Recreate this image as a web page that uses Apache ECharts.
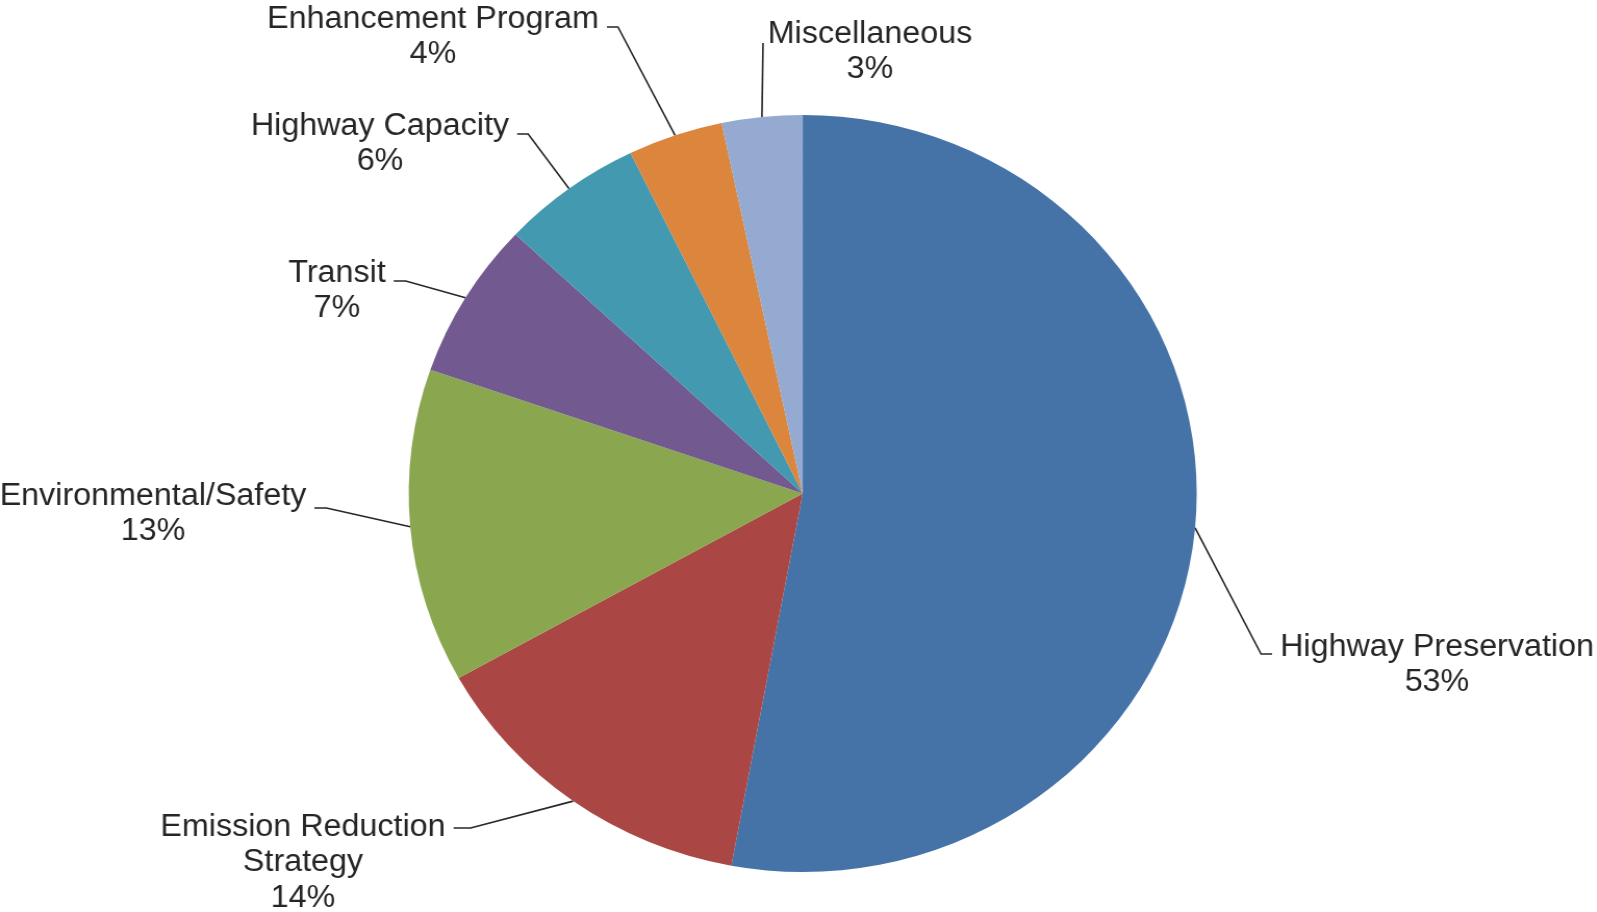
<!DOCTYPE html>
<html>
<head>
<meta charset="utf-8">
<script src="https://cdn.jsdelivr.net/npm/echarts@6/dist/echarts.min.js"></script>
<style>
html, body { margin: 0; padding: 0; background: #ffffff; overflow: hidden; }
#chart { width: 1534px; height: 912px; transform: scaleX(1.041); transform-origin: 0 0; }
</style>
</head>
<body>
<div id="chart"></div>
<script>
// ---- data ----
const categories = [
  'Highway Preservation',
  'Emission Reduction\nStrategy',
  'Environmental/Safety',
  'Transit',
  'Highway Capacity',
  'Enhancement Program',
  'Miscellaneous'
];
const shares = [52.9, 14.0, 13.4, 6.7, 5.8, 3.9, 3.3];

// ---- styles ----
const colors = ['#4573A8', '#AA4744', '#8AA64F', '#72598F', '#4299B0', '#DB853D', '#94AAD0'];
const SX = 1.041;          // horizontal stretch of the picture
const LH = 35.5;           // label line height
const GAP = 8;             // gap between leader line and text (screen px)

// label placement (screen px): text centre x, first-line centre y, leader y
const labelSpots = [
  { cx: 1437, cy: 647, lineY: 654, side: 'right', seg: 11 },
  { cx: 303,  cy: 827, lineY: 828, side: 'left',  seg: 17 },
  { cx: 153,  cy: 496, lineY: 508, side: 'left',  seg: 12 },
  { cx: 337,  cy: 273, lineY: 281, side: 'left',  seg: 12 },
  { cx: 380,  cy: 126, lineY: 134, side: 'left',  seg: 11 },
  { cx: 433,  cy: 19,  lineY: 27,  side: 'left',  seg: 11 },
  { cx: 870,  cy: 34,  lineY: 43,  side: 'up',    lx: 763 }
];

const chart = echarts.init(document.getElementById('chart'), null, { renderer: 'canvas' });

chart.setOption({
  animation: false,
  backgroundColor: '#ffffff',
  series: [{
    type: 'pie',
    center: [802.7 / SX, 493.5],
    radius: 378.5,
    startAngle: 90,
    clockwise: true,
    avoidLabelOverlap: false,
    silent: true,
    data: categories.map((name, i) => ({
      name: name,
      value: shares[i],
      itemStyle: { color: colors[i] }
    })),
    itemStyle: { borderWidth: 0 },
    label: {
      show: true,
      position: 'outside',
      formatter: p => p.name + '\n' + Math.round(p.percent) + '%',
      fontFamily: '"Liberation Sans", Arial, sans-serif',
      fontSize: 31,
      lineHeight: LH,
      color: '#262626',
      align: 'center'
    },
    labelLine: {
      show: true,
      length: 20,
      length2: 10,
      smooth: false,
      lineStyle: { color: '#262626', width: 1.6 }
    },
    labelLayout: function (p) {
      const s = labelSpots[p.dataIndex];
      const w = p.labelRect.width;
      const cx = s.cx / SX;
      const start = p.labelLinePoints ? p.labelLinePoints[0] : [cx, s.lineY];
      let pts;
      if (s.side === 'left') {
        const end = cx + w / 2 + GAP / SX;
        pts = [start, [end + s.seg / SX, s.lineY], [end, s.lineY]];
      } else if (s.side === 'right') {
        const end = cx - w / 2 - GAP / SX;
        pts = [start, [end - s.seg / SX, s.lineY], [end, s.lineY]];
      } else {
        pts = [start, [s.lx / SX, s.lineY], [s.lx / SX, s.lineY]];
      }
      return {
        x: cx,
        y: s.cy - LH / 2,
        align: 'center',
        verticalAlign: 'top',
        labelLinePoints: pts
      };
    }
  }]
});
</script>
</body>
</html>
